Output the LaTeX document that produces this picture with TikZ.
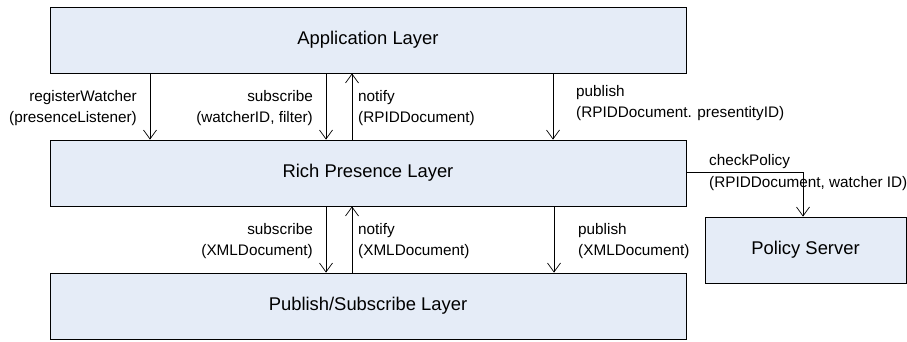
\documentclass[tikz,border=0pt]{standalone}
\usepackage{fontspec}
\setmainfont{Liberation Sans}
\usetikzlibrary{arrows.meta}
\definecolor{layerfill}{HTML}{E5ECF7}
\tikzset{
  layer/.style={draw=black, line width=0.8pt, fill=layerfill, inner sep=0pt,
    font=\fontsize{18.4}{22}\selectfont},
  call/.style={draw=black, line width=0.7pt, -{Straight Barb[length=9pt,width=13pt,line width=0.7pt]}},
  lbl/.style={inner sep=0pt, font=\fontsize{15.3}{21.5}\selectfont},
}
\begin{document}
\begin{tikzpicture}[x=1pt,y=-1pt]
  \useasboundingbox (0,0) rectangle (907,342);

  % the three stacked layers
  \node[layer, minimum width=636pt, minimum height=66pt] (app) at (368,40) {Application Layer};
  \node[layer, minimum width=636pt, minimum height=66pt] (rich) at (368,173) {Rich Presence Layer};
  \node[layer, minimum width=636pt, minimum height=66pt] (pubsub) at (368,306) {Publish/Subscribe Layer};
  \node[layer, minimum width=201pt, minimum height=66pt] (policy) at (805.5,250) {Policy Server};

  % calls between application and rich presence layer
  \draw[call] (app.south -| 150,0) -- (rich.north -| 150,0);
  \draw[call] (app.south -| 326,0) -- (rich.north -| 326,0);
  \draw[call] (rich.north -| 352,0) -- (app.south -| 352,0);
  \draw[call] (app.south -| 553,0) -- (rich.north -| 553,0);

  \node[lbl, anchor=east, align=right] (l1) at (137,108) {registerWatcher\\(presenceListener)};
  \node[lbl, anchor=east, align=right] (l2) at (313,108) {subscribe\\(watcherID, filter)};
  \node[lbl, anchor=west, align=left] (l3) at (358,108) {notify\\(RPIDDocument)};
  \node[lbl, anchor=west, align=left] (l4) at (576,103) {publish\\(RPIDDocument. presentityID)};

  % calls between rich presence and publish/subscribe layer
  \draw[call] (rich.south -| 326,0) -- (pubsub.north -| 326,0);
  \draw[call] (pubsub.north -| 352,0) -- (rich.south -| 352,0);
  \draw[call] (rich.south -| 554,0) -- (pubsub.north -| 554,0);

  \node[lbl, anchor=east, align=right] (l5) at (313,241) {subscribe\\(XMLDocument)};
  \node[lbl, anchor=west, align=left] (l6) at (358,241) {notify\\(XMLDocument)};
  \node[lbl, anchor=west, align=left] (l7) at (578,241) {publish\\(XMLDocument)};

  % policy check
  \coordinate (bend) at (803,172);
  \draw[call] (rich.east |- bend) -- (bend) -- (policy.north -| bend);
  \node[lbl, anchor=west, align=left] (l8) at (709,172.5) {checkPolicy\\(RPIDDocument, watcher ID)};
\end{tikzpicture}
\end{document}
